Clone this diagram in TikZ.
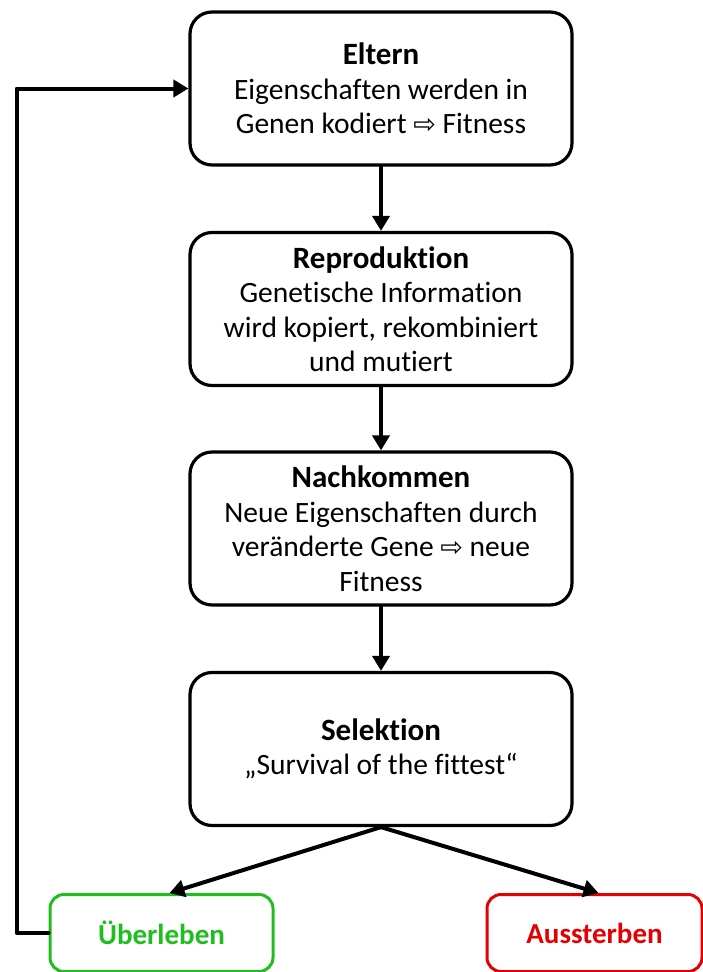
\documentclass[tikz,border=0pt]{standalone}
\usepackage{fontspec}
\setmainfont[Ligatures={NoCommon}]{Carlito}
\newfontfamily\arrowfont{DejaVu Sans}
\usetikzlibrary{arrows.meta,calc,positioning}
\definecolor{keepgreen}{RGB}{30,190,30}
\definecolor{dropred}{RGB}{228,0,0}
\newcommand{\ImpliesSign}{{\arrowfont\fontsize{27}{27}\selectfont ⇨}}
\newcommand{\StageTitle}[1]{{\fontsize{31}{34}\selectfont\bfseries #1}}
\tikzset{
  stage box/.style={draw,line width=3.2pt,rounded corners=22pt,minimum width=382pt,
    minimum height=153pt,align=center,inner sep=2pt,font=\fontsize{29.5}{34.5}\selectfont},
  outcome box/.style={draw,line width=3pt,rounded corners=14pt,minimum height=77pt,
    font=\fontsize{29}{34}\selectfont\bfseries},
  flow arrow/.style={line width=4pt,-{Triangle[length=15pt,width=17pt]}}
}

\begin{document}
\begin{tikzpicture}[x=1pt,y=-1pt,line cap=round,line join=round]
  \useasboundingbox (0,0) rectangle (702,972);

  \node[stage box] (eltern) at (381,88.5)
    {\StageTitle{Eltern}\\Eigenschaften werden in\\Genen kodiert \ImpliesSign{} Fitness};
  \node[stage box] (repro) at (381,309)
    {\StageTitle{Reproduktion}\\Genetische Information\\wird kopiert, rekombiniert\\und mutiert};
  \node[stage box] (nach) at (381,528.5)
    {\StageTitle{Nachkommen}\\Neue Eigenschaften durch\\veränderte Gene \ImpliesSign{} neue\\Fitness};
  \node[stage box] (selek) at (381,749)
    {\StageTitle{Selektion}\\„Survival of the fittest“};

  \node[outcome box,draw=keepgreen,text=keepgreen,minimum width=223pt] (ueber) at (161.5,933) {Überleben};
  \node[outcome box,draw=dropred,text=dropred,minimum width=215pt] (aus) at (594.5,933) {Aussterben};

  \draw[flow arrow] (eltern) -- (repro);
  \draw[flow arrow] (repro) -- (nach);
  \draw[flow arrow] (nach) -- (selek);
  \draw[flow arrow] (selek.south) -- ($(ueber.north)+(8,0)$);
  \draw[flow arrow] (selek.south) -- ($(aus.north)+(4,0)$);
  % back to the parents
  \draw[flow arrow] (ueber.west) -- ++(-32,0) |- (eltern.west);
\end{tikzpicture}
\end{document}
